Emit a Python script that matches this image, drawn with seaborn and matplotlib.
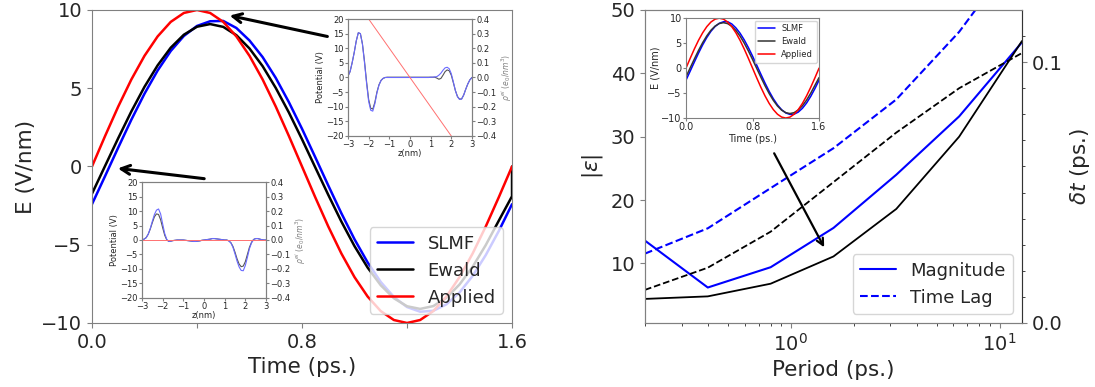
import matplotlib
matplotlib.use("Agg")
import matplotlib.pyplot as plt
import seaborn as sns
import pandas as pd
import numpy as np
from matplotlib.lines import Line2D

# ---- left panel: field vs time ----
time_ps = [0.0, 0.05, 0.10, 0.15, 0.20, 0.25, 0.30, 0.35, 0.40, 0.45, 0.50,
           0.55, 0.60, 0.65, 0.70, 0.75, 0.80, 0.85, 0.90, 0.95, 1.00, 1.05,
           1.10, 1.15, 1.20, 1.25, 1.30, 1.35, 1.40, 1.45, 1.50, 1.55, 1.60]
e_applied = [0.0, 1.95, 3.83, 5.56, 7.07, 8.31, 9.24, 9.81, 10.0, 9.81, 9.24,
             8.31, 7.07, 5.56, 3.83, 1.95, 0.0, -1.95, -3.83, -5.56, -7.07, -8.31,
             -9.24, -9.81, -10.0, -9.81, -9.24, -8.31, -7.07, -5.56, -3.83, -1.95, 0.0]
e_ewald = [-1.74, 0.04, 1.81, 3.52, 5.09, 6.46, 7.59, 8.42, 8.93, 9.10, 8.92,
           8.39, 7.54, 6.41, 5.02, 3.45, 1.74, -0.04, -1.81, -3.52, -5.09, -6.46,
           -7.59, -8.42, -8.93, -9.10, -8.92, -8.39, -7.54, -6.41, -5.02, -3.45, -1.90]
e_slmf = [-2.41, -0.61, 1.21, 2.99, 4.65, 6.13, 7.38, 8.34, 8.98, 9.28, 9.30,
          8.85, 8.05, 6.99, 5.66, 4.11, 2.41, 0.61, -1.21, -2.99, -4.65, -6.13,
          -7.38, -8.34, -8.98, -9.28, -9.22, -8.81, -8.05, -6.99, -5.66, -4.11, -2.41]
# the Ewald trace snaps back to zero at the last sample
ewald_end = 0.0

# ---- inset potential profiles ----
z_nm = [round(-3 + 0.1 * i, 1) for i in range(61)]
pot_ewald_peak = [0.5, 2.0, 5.0, 8.5, 12.5, 15.3, 15.0, 11.5, 5.5, -1.5, -7.5,
                  -10.5, -10.8, -8.5, -5.0, -2.5, -1.0, -0.3, 0.0, 0.1, 0.1,
                  0.1, 0.1, 0.1, 0.1, 0.1, 0.1, 0.1, 0.1, 0.1, 0.1,
                  0.1, 0.1, 0.1, 0.1, 0.1, 0.1, 0.1, 0.1, 0.1, 0.1,
                  0.1, 0.1, -0.2, -0.6, -0.3, 0.8, 2.0, 2.6, 2.3, 0.8,
                  -1.8, -4.5, -6.5, -7.4, -7.3, -6.0, -4.0, -2.2, -0.8, 0.0]
pot_slmf_peak = [0.5, 2.0, 5.0, 8.5, 12.5, 15.3, 15.0, 11.3, 5.0, -2.0, -8.2,
                 -11.2, -11.5, -9.0, -5.3, -2.6, -1.0, -0.3, 0.0, 0.0, 0.0,
                 0.0, 0.0, 0.0, 0.0, 0.0, 0.0, 0.0, 0.0, 0.0, 0.0,
                 0.0, 0.0, 0.0, 0.0, 0.0, 0.0, 0.0, 0.0, 0.0, 0.1,
                 0.1, 0.2, 0.3, 0.8, 1.5, 2.5, 3.3, 3.5, 3.0, 1.3,
                 -1.5, -4.5, -6.6, -7.5, -7.4, -6.0, -4.0, -2.2, -0.8, 0.0]
pot_ewald_zero = [0.0, 0.3, 0.8, 2.0, 3.8, 6.0, 8.0, 9.0, 8.8, 7.0, 4.2,
                  1.6, 0.0, -0.5, -0.4, -0.2, -0.1, 0.0, 0.0, 0.0, 0.0,
                  -0.1, -0.2, -0.3, -0.4, -0.5, -0.5, -0.4, -0.3, -0.1, 0.0,
                  0.1, 0.2, 0.3, 0.5, 0.5, 0.4, 0.3, 0.2, 0.1, 0.0,
                  0.0, -0.3, -0.9, -2.2, -4.2, -6.5, -8.3, -9.2, -9.0, -7.5,
                  -5.0, -2.5, -0.8, 0.2, 0.5, 0.5, 0.3, 0.1, 0.0, 0.0]
pot_slmf_zero = [0.0, 0.3, 0.8, 2.0, 4.0, 6.5, 8.8, 10.3, 10.7, 9.0, 5.5,
                 2.2, 0.2, -0.5, -0.4, -0.2, -0.1, 0.0, 0.0, 0.0, 0.0,
                 -0.1, -0.2, -0.3, -0.4, -0.5, -0.5, -0.4, -0.3, -0.1, 0.0,
                 0.1, 0.2, 0.3, 0.5, 0.5, 0.4, 0.3, 0.2, 0.1, 0.0,
                 0.0, -0.3, -1.0, -2.5, -4.8, -7.3, -9.3, -10.5, -10.6, -8.8,
                 -6.0, -3.0, -1.0, 0.1, 0.5, 0.5, 0.3, 0.1, 0.0, 0.0]
z_applied = [-3.0, 3.0]
pot_applied_peak = [30.0, -30.0]
pot_applied_zero = [0.0, 0.0]

# ---- right panel: error vs period ----
period_ps = [0.2, 0.4, 0.8, 1.6, 3.2, 6.4, 12.8]
mag_slmf = [13.6, 6.2, 9.4, 15.6, 24.0, 33.2, 44.9]
mag_ewald = [4.4, 4.8, 6.8, 11.1, 18.6, 30.0, 45.1]
lag_slmf = [0.0266, 0.0363, 0.0517, 0.0670, 0.0857, 0.1116, 0.144]
lag_ewald = [0.0127, 0.0212, 0.0350, 0.0540, 0.0730, 0.0900, 0.1035]

sns.set_style("ticks")
plt.rcParams['font.family'] = ['DejaVu Sans']
SPINE = '#808080'


def style_axes(ax, size, spine=SPINE):
    for s in ax.spines.values():
        s.set_color(spine)
    ax.tick_params(labelsize=size, color=spine)


fig = plt.figure(figsize=(10.95, 3.87), dpi=100)

# ================= left panel =================
ax1 = fig.add_axes([0.084, 0.1654, 0.3836, 0.8088])
ewald_t = time_ps + [1.6]
ewald_v = e_ewald + [ewald_end]
sns.lineplot(x=time_ps, y=e_slmf, color='blue', lw=1.8, label='SLMF',
             estimator=None, sort=False, ax=ax1)
sns.lineplot(x=ewald_t, y=ewald_v, color='black', lw=1.8, label='Ewald',
             estimator=None, sort=False, ax=ax1)
sns.lineplot(x=time_ps, y=e_applied, color='red', lw=1.8, label='Applied',
             estimator=None, sort=False, ax=ax1)
ax1.set_xlim(0, 1.6)
ax1.set_ylim(-10, 10)
ax1.set_xticks([0, 0.4, 0.8, 1.2, 1.6])
ax1.set_xticklabels(['0.0', '', '0.8', '', '1.6'])
ax1.set_yticks([-10, -5, 0, 5, 10])
style_axes(ax1, 14)
ax1.set_xlabel('Time (ps.)', fontsize=15.5)
ax1.set_ylabel('E (V/nm)', fontsize=15.5)
ax1.legend(loc='lower right', fontsize=13, edgecolor='#cccccc')

arrow = dict(arrowstyle='->', color='black', lw=2.2, mutation_scale=16)
ax1.annotate('', xy=(0.514, 9.68), xytext=(0.907, 8.27), arrowprops=arrow)
ax1.annotate('', xy=(0.088, -0.1), xytext=(0.438, -0.8), arrowprops=arrow)


def potential_inset(rect, blue_v, black_v, red_v):
    ax = fig.add_axes(rect)
    sns.lineplot(x=z_nm, y=black_v, color='#555555', lw=0.8, estimator=None, ax=ax)
    sns.lineplot(x=z_nm, y=blue_v, color='#6a6aff', lw=0.8, estimator=None, ax=ax)
    sns.lineplot(x=z_applied, y=red_v, color='#ff7070', lw=0.7, estimator=None, ax=ax)
    ax.set_xlim(-3, 3)
    ax.set_ylim(-20, 20)
    ax.set_xticks(range(-3, 4))
    ax.set_yticks(range(-20, 21, 5))
    ax.set_xlabel('z(nm)', fontsize=6, labelpad=0)
    ax.set_ylabel('Potential (V)', fontsize=6, labelpad=1)
    style_axes(ax, 6)
    ax.tick_params(length=2, pad=1)
    tw = ax.twinx()
    tw.set_ylim(-0.4, 0.4)
    tw.set_yticks(np.round(np.arange(-0.4, 0.41, 0.1), 1))
    tw.set_ylabel(r'$\rho^{ei}$ ($e_0/nm^3$)', fontsize=5.5, color='gray', labelpad=2)
    style_axes(tw, 6)
    tw.tick_params(length=2, pad=1)
    return ax


potential_inset([0.3178, 0.6486, 0.1132, 0.3023], pot_slmf_peak, pot_ewald_peak,
                pot_applied_peak)
potential_inset([0.1297, 0.2300, 0.1132, 0.2997], pot_slmf_zero, pot_ewald_zero,
                pot_applied_zero)

# ================= right panel =================
ax2 = fig.add_axes([0.589, 0.1654, 0.3443, 0.8088])
ax2.set_xscale('log')
sns.lineplot(x=period_ps, y=mag_slmf, color='blue', lw=1.5, estimator=None, ax=ax2)
sns.lineplot(x=period_ps, y=mag_ewald, color='black', lw=1.3, estimator=None, ax=ax2)
ax2.set_xlim(0.2, 12.8)
ax2.set_ylim(0.6, 50)
ax2.set_yticks([10, 20, 30, 40, 50])
style_axes(ax2, 14)
ax2.set_xlabel('Period (ps.)', fontsize=15.5)
ax2.set_ylabel(r'$|\epsilon|$', fontsize=15.5)

ax3 = ax2.twinx()
sns.lineplot(x=period_ps, y=lag_slmf, color='blue', lw=1.5, ls='--', estimator=None, ax=ax3)
sns.lineplot(x=period_ps, y=lag_ewald, color='black', lw=1.3, ls='--', estimator=None, ax=ax3)
ax3.set_ylim(0, 0.12)
ax3.set_yticks([0.0, 0.1])
ax3.set_yticks(np.arange(0.01, 0.12, 0.01), minor=True)
style_axes(ax3, 14)
ax3.spines['right'].set_color('#333333')
ax3.set_ylabel(r'$\delta t$ (ps.)', fontsize=15.5)

handles = [Line2D([], [], color='blue', lw=1.5),
           Line2D([], [], color='blue', lw=1.5, ls='--')]
ax3.legend(handles, ['Magnitude', 'Time Lag'], loc='lower right', fontsize=13,
           edgecolor='#cccccc')
ax3.annotate('', xy=(1.465, 11.7 / 50 * 0.12), xytext=(0.82, 27.5 / 50 * 0.12),
             arrowprops=dict(arrowstyle='->', color='black', lw=1.6, mutation_scale=12))

# inset: field traces again
ax4 = fig.add_axes([0.6265, 0.695, 0.1215, 0.258])
sns.lineplot(x=time_ps, y=e_slmf, color='blue', lw=1.1, label='SLMF', estimator=None, ax=ax4)
sns.lineplot(x=time_ps, y=e_ewald, color='#333333', lw=1.1, label='Ewald', estimator=None, ax=ax4)
sns.lineplot(x=time_ps, y=e_applied, color='red', lw=1.1, label='Applied', estimator=None, ax=ax4)
ax4.set_xlim(0, 1.6)
ax4.set_ylim(-10, 10)
ax4.set_xticks([0, 0.8, 1.6])
ax4.set_xticklabels(['0.0', '0.8', '1.6'])
ax4.set_yticks([-10, -5, 0, 5, 10])
style_axes(ax4, 7)
ax4.tick_params(length=2, pad=1)
ax4.set_xlabel('Time (ps.)', fontsize=7, labelpad=1)
ax4.set_ylabel('E (V/nm)', fontsize=7, labelpad=1)
ax4.legend(loc='upper right', fontsize=6, edgecolor='#cccccc', handlelength=2.0,
           borderaxespad=0.3)

fig.savefig('out.png', dpi=100)
